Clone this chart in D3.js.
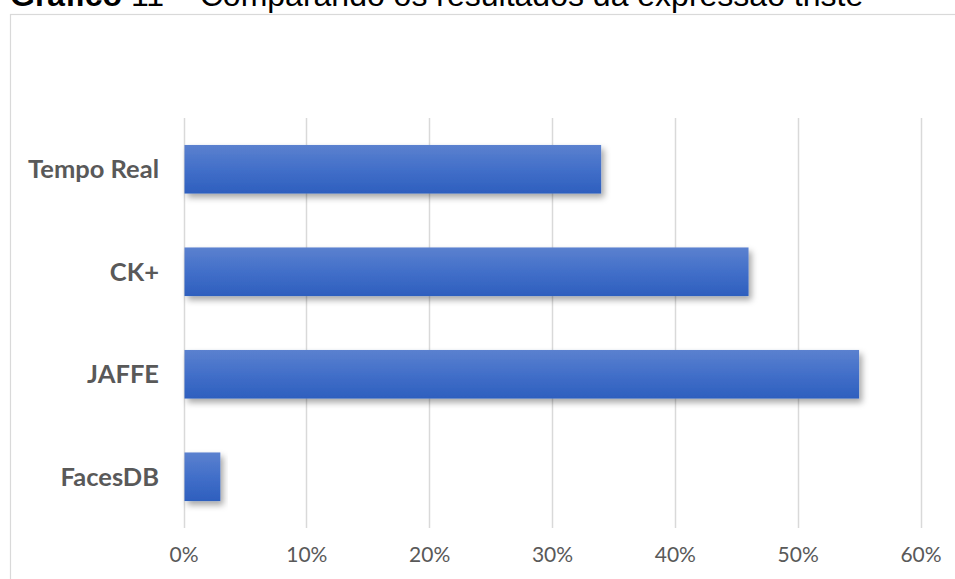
<!DOCTYPE html>
<html>
<head>
<meta charset="utf-8">
<script src="https://cdn.jsdelivr.net/npm/d3@7"></script>
<style>
  html, body { margin: 0; padding: 0; background: #ffffff; }
  svg { display: block; }
</style>
</head>
<body>
<svg id="chart" width="955" height="579"></svg>
<script>
// Result share per dataset for the "triste" expression
const categories = ["Tempo Real", "CK+", "JAFFE", "FacesDB"];
const values = [0.34, 0.46, 0.55, 0.03];
const tickValues = [0, 0.1, 0.2, 0.3, 0.4, 0.5, 0.6];

const svg = d3.select("#chart");
const W = 955, H = 579;

svg.append("rect").attr("width", W).attr("height", H).attr("fill", "#ffffff");

// Title
const title = svg.append("text")
  .attr("x", 10).attr("y", 6)
  .attr("font-family", "'Liberation Sans', Arial, sans-serif")
  .attr("font-size", 32)
  .attr("fill", "#000000");
title.append("tspan").attr("font-weight", "bold").text("Gráfico");
title.append("tspan").text(" 11 – Comparando os resultados da expressão triste");

// Chart frame
svg.append("rect")
  .attr("x", 10.5).attr("y", 14.5)
  .attr("width", 960).attr("height", 600)
  .attr("fill", "none")
  .attr("stroke", "#d9d9d9")
  .attr("stroke-width", 1.2);

const defs = svg.append("defs");
const grad = defs.append("linearGradient")
  .attr("id", "barFill").attr("x1", 0).attr("y1", 0).attr("x2", 0).attr("y2", 1);
grad.append("stop").attr("offset", "0%").attr("stop-color", "#5b81cf");
grad.append("stop").attr("offset", "50%").attr("stop-color", "#426fc9");
grad.append("stop").attr("offset", "100%").attr("stop-color", "#2e5fbe");

const shadow = defs.append("filter")
  .attr("id", "barShadow")
  .attr("x", "-10%").attr("y", "-20%").attr("width", "130%").attr("height", "160%");
shadow.append("feDropShadow")
  .attr("dx", 3).attr("dy", 4).attr("stdDeviation", 3)
  .attr("flood-color", "#000000").attr("flood-opacity", 0.35);

const plotTop = 118, plotBottom = 528;
const x = d3.scaleLinear().domain([0, 0.6]).range([183.5, 920.5]);
const y = d3.scaleBand().domain(categories).range([plotTop, plotBottom])
  .paddingInner(0.526).paddingOuter(0.263);

// Vertical gridlines
svg.append("g").selectAll("line").data(tickValues).join("line")
  .attr("x1", d => Math.round(x(d)) + 0.5).attr("x2", d => Math.round(x(d)) + 0.5)
  .attr("y1", plotTop).attr("y2", plotBottom)
  .attr("stroke", "#d9d9d9").attr("stroke-width", 1.5);

// Bars
svg.append("g").selectAll("rect").data(categories).join("rect")
  .attr("x", x(0) + 1)
  .attr("y", d => y(d))
  .attr("width", (d, i) => x(values[i]) - x(0) - 1)
  .attr("height", y.bandwidth())
  .attr("fill", "url(#barFill)")
  .attr("filter", "url(#barShadow)");

// Category axis
const yAxis = svg.append("g")
  .attr("transform", "translate(159,0)")
  .call(d3.axisLeft(y).tickSize(0).tickPadding(0));
yAxis.select(".domain").remove();
yAxis.selectAll("text")
  .attr("font-family", "Lato, 'Open Sans', sans-serif")
  .attr("font-weight", "bold")
  .attr("font-size", 25.5)
  .attr("fill", "#595959")
  .attr("dy", "0.35em");

// Value axis
const xAxis = svg.append("g")
  .attr("transform", "translate(0,547)")
  .call(d3.axisBottom(x).tickValues(tickValues).tickFormat(d3.format(".0%")).tickSize(0).tickPadding(0));
xAxis.select(".domain").remove();
xAxis.selectAll("text")
  .attr("font-family", "Lato, 'Open Sans', sans-serif")
  .attr("font-size", 21)
  .attr("fill", "#595959")
  .attr("dy", "0.71em");
</script>
</body>
</html>
